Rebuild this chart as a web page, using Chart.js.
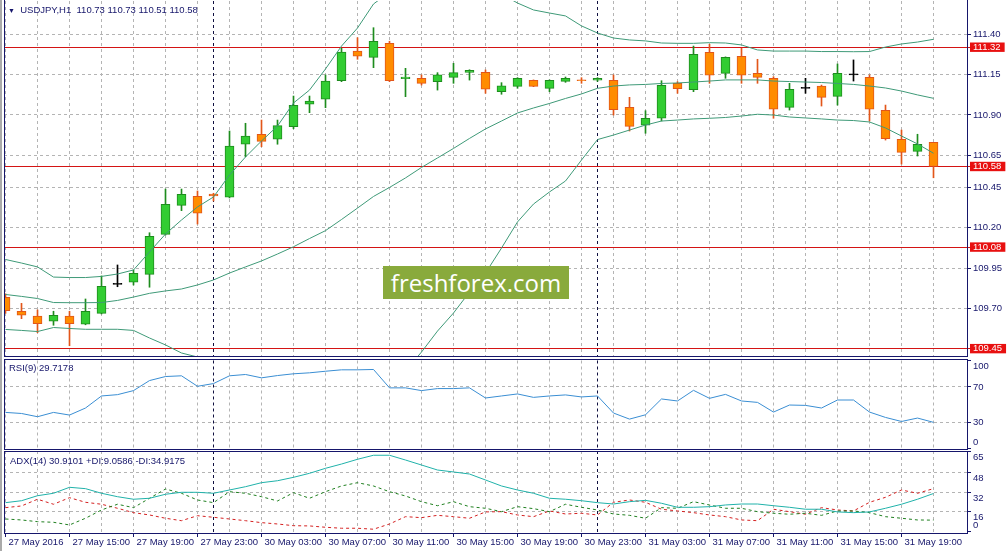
<!DOCTYPE html>
<html>
<head>
<meta charset="utf-8">
<script src="https://cdn.jsdelivr.net/npm/chart.js@4.4.0/dist/chart.umd.min.js"></script>
<style>
  html, body { margin: 0; padding: 0; background: #fff; }
  body { width: 1007px; height: 551px; position: relative; overflow: hidden;
         font-family: 'Liberation Sans', Arial, sans-serif; }
  canvas { position: absolute; left: 0; }
  .frame { position: absolute; left: 4px; width: 964px; border: 1px solid #16166b;
           box-sizing: border-box; pointer-events: none; }
  .edge { position: absolute; left: 0; top: 0; width: 2px; height: 551px; background: #aaa; }
  .lbl { position: absolute; font-size: 9.5px; color: #16166b; white-space: pre; line-height: 12px; }
  .tri { font-size: 7px; }
  .mark { position: absolute; left: 383px; top: 266px; width: 186px; height: 33px;
          background: #89aa3c; color: #fff; font: 24px 'Open Sans', sans-serif;
          line-height: 33px; text-align: center; }
</style>
</head>
<body>
<div class="edge"></div>
<canvas id="main" width="1007" height="358" style="top:0"></canvas>
<canvas id="rsi" width="1007" height="110" style="top:350px"></canvas>
<canvas id="adx" width="1007" height="106" style="top:445px"></canvas>
<div class="frame" style="top:-1px;height:358px"></div>
<div class="frame" style="top:359px;height:91px"></div>
<div class="frame" style="top:451px;height:83px"></div>
<div class="lbl" id="head" style="left:8px;top:4px"></div>
<div class="lbl" id="rsiLbl" style="left:9px;top:362px"></div>
<div class="lbl" id="adxLbl" style="left:10px;top:455px"></div>
<div class="mark">freshforex.com</div>
<script>
// USDJPY H1, 27 May 11:00 .. 31 May 21:00
const timeLabels = ['27 May 2016', '27 May 15:00', '27 May 19:00', '27 May 23:00', '30 May 03:00',
  '30 May 07:00', '30 May 11:00', '30 May 15:00', '30 May 19:00', '30 May 23:00', '31 May 03:00',
  '31 May 07:00', '31 May 11:00', '31 May 15:00', '31 May 19:00'];
const labelEvery = 4;
const separators = [13, 37];

const open = [109.768, 109.682, 109.652, 109.620, 109.652, 109.601, 109.669, 109.849, 109.862, 109.911,
  110.159, 110.339, 110.395, 110.409, 110.389, 110.718, 110.780, 110.749, 110.827, 110.966,
  110.997, 111.112, 111.296, 111.257, 111.344, 111.125, 111.127, 111.106, 111.133, 111.164,
  111.164, 111.044, 111.077, 111.115, 111.065, 111.108, 111.115, 111.115, 111.115, 110.947,
  110.837, 110.879, 111.096, 111.056, 111.288, 111.158, 111.264, 111.158, 111.127, 110.947,
  111.065, 111.079, 111.015, 111.148, 111.133, 110.929, 110.749, 110.674, 110.73];
const high = [109.790, 109.731, 109.690, 109.682, 109.682, 109.758, 109.901, 109.969, 109.938, 110.169,
  110.440, 110.440, 110.428, 110.414, 110.800, 110.848, 110.868, 110.868, 111.017, 111.017,
  111.148, 111.313, 111.379, 111.441, 111.357, 111.189, 111.148, 111.162, 111.220, 111.180,
  111.179, 111.100, 111.131, 111.117, 111.117, 111.135, 111.131, 111.131, 111.148, 111.009,
  110.926, 111.112, 111.106, 111.327, 111.338, 111.260, 111.313, 111.245, 111.137, 111.096,
  111.127, 111.085, 111.216, 111.241, 111.148, 110.961, 110.806, 110.780, 110.73];
const low = [109.669, 109.636, 109.549, 109.595, 109.468, 109.598, 109.665, 109.834, 109.845, 109.831,
  110.155, 110.306, 110.223, 110.366, 110.385, 110.641, 110.703, 110.718, 110.814, 110.914,
  110.945, 111.106, 111.245, 111.193, 111.106, 111.013, 111.085, 111.054, 111.096, 111.116,
  111.034, 111.028, 111.065, 111.075, 111.044, 111.102, 111.096, 111.108, 110.899, 110.800,
  110.786, 110.862, 111.034, 111.044, 111.096, 111.127, 111.096, 111.096, 110.879, 110.930,
  111.034, 110.955, 110.961, 111.110, 110.862, 110.744, 110.595, 110.645, 110.51];
const close = [109.685, 109.657, 109.605, 109.657, 109.605, 109.682, 109.837, 109.849, 109.917, 110.147,
  110.345, 110.407, 110.290, 110.397, 110.707, 110.769, 110.736, 110.833, 110.960, 110.986,
  111.110, 111.290, 111.264, 111.357, 111.112, 111.135, 111.096, 111.148, 111.162, 111.177,
  111.059, 111.081, 111.127, 111.077, 111.115, 111.127, 111.112, 111.127, 110.932, 110.829,
  110.879, 111.084, 111.063, 111.276, 111.146, 111.257, 111.146, 111.133, 110.935, 111.059,
  111.065, 111.009, 111.158, 111.148, 110.935, 110.752, 110.668, 110.718, 110.58];

const bbUpper = [110.003, 109.981, 109.957, 109.894, 109.891, 109.891, 109.898, 109.913, 109.938, 110.050,
  110.161, 110.248, 110.329, 110.391, 110.527, 110.639, 110.738, 110.831, 110.974, 111.054,
  111.185, 111.327, 111.439, 111.588, 111.662, 111.706, 111.718, 111.706, 111.712, 111.706,
  111.706, 111.650, 111.594, 111.551, 111.532, 111.514, 111.452, 111.408, 111.377, 111.365,
  111.359, 111.346, 111.344, 111.344, 111.348, 111.346, 111.334, 111.303, 111.296, 111.296,
  111.296, 111.293, 111.293, 111.292, 111.293, 111.321, 111.340, 111.352, 111.369];
const bbMiddle = [109.786, 109.774, 109.761, 109.736, 109.735, 109.735, 109.736, 109.749, 109.770, 109.793,
  109.808, 109.820, 109.845, 109.876, 109.919, 109.957, 109.994, 110.037, 110.082, 110.133,
  110.182, 110.251, 110.322, 110.394, 110.450, 110.509, 110.574, 110.633, 110.692, 110.754,
  110.813, 110.862, 110.912, 110.943, 110.971, 111.002, 111.030, 111.065, 111.079, 111.086,
  111.089, 111.095, 111.098, 111.104, 111.110, 111.117, 111.117, 111.117, 111.110, 111.107,
  111.104, 111.101, 111.095, 111.089, 111.079, 111.067, 111.048, 111.024, 111.003];
const bbLower = [109.569, 109.563, 109.556, 109.581, 109.575, 109.570, 109.570, 109.570, 109.563, 109.516,
  109.473, 109.423, 109.398, 109.361, 109.311, 109.274, 109.249, 109.243, 109.193, 109.212,
  109.181, 109.175, 109.206, 109.200, 109.237, 109.311, 109.429, 109.559, 109.671, 109.801,
  109.919, 110.074, 110.236, 110.347, 110.422, 110.490, 110.620, 110.747, 110.775, 110.806,
  110.837, 110.862, 110.868, 110.875, 110.879, 110.884, 110.893, 110.904, 110.899, 110.887,
  110.881, 110.875, 110.868, 110.865, 110.856, 110.819, 110.769, 110.720, 110.662];

const rsi = [41.0, 39.8, 36.1, 41.0, 38.0, 46.0, 59.7, 61.2, 65.8, 77.2,
  81.8, 82.6, 70.7, 73.8, 82.6, 84.1, 80.3, 82.9, 84.9, 86.0,
  87.8, 89.4, 89.4, 89.8, 68.9, 68.9, 65.8, 68.1, 68.1, 68.9,
  57.4, 59.7, 62.0, 58.1, 59.7, 60.9, 58.6, 59.7, 40.3, 33.4,
  38.3, 56.3, 54.0, 66.1, 57.0, 61.5, 54.0, 52.4, 41.4, 49.4,
  49.0, 46.0, 55.1, 55.1, 41.4, 35.3, 30.7, 34.6, 29.7178];

const adx = [23.4, 25.0, 29.1, 31.1, 36.0, 34.9, 31.1, 28.3, 26.2, 27.0,
  30.3, 31.9, 31.9, 31.1, 33.8, 36.5, 39.8, 41.4, 44.2, 47.5,
  51.6, 55.1, 59.0, 62.3, 62.3, 58.4, 54.3, 50.2, 48.6, 46.9,
  42.0, 37.1, 33.8, 31.1, 27.0, 26.2, 25.0, 23.4, 22.3, 24.2,
  25.3, 22.9, 19.6, 19.6, 20.1, 21.5, 22.3, 22.3, 20.9, 19.6,
  18.0, 18.0, 15.8, 15.2, 15.8, 18.8, 22.1, 26.2, 30.9101];
const plusDI = [10.0, 9.2, 7.8, 7.3, 5.1, 10.6, 17.4, 22.1, 19.3, 27.0,
  34.6, 31.1, 25.6, 23.4, 32.4, 31.1, 28.3, 24.8, 31.6, 27.0,
  32.4, 37.1, 39.8, 37.1, 32.4, 28.9, 24.2, 20.9, 24.2, 20.1,
  18.8, 16.0, 20.1, 18.5, 16.0, 22.1, 19.6, 17.4, 14.1, 13.0,
  10.6, 19.3, 18.8, 24.2, 21.5, 18.8, 18.8, 16.0, 14.7, 13.9,
  14.7, 13.0, 16.6, 16.6, 15.2, 11.9, 10.6, 9.2, 9.0586];
const minusDI = [19.3, 20.7, 26.2, 22.1, 27.5, 23.7, 22.1, 18.8, 15.2, 13.3,
  10.6, 8.6, 12.7, 11.4, 10.0, 8.6, 7.0, 5.9, 4.5, 4.3,
  3.2, 2.4, 2.4, 1.6, 5.9, 11.9, 11.1, 13.0, 11.9, 10.6,
  15.8, 16.0, 13.3, 11.9, 16.6, 14.1, 14.7, 13.3, 23.7, 25.6,
  23.7, 18.0, 16.6, 15.2, 13.3, 11.9, 9.2, 8.6, 18.0, 16.0,
  13.9, 19.3, 17.4, 16.6, 23.7, 27.8, 33.8, 31.1, 34.9175];

const priceTicks = [111.40, 111.15, 110.90, 110.65, 110.45, 110.20, 109.95, 109.70];
const levels = [111.32, 110.58, 110.08, 109.45];
const rsiTicks = [100, 70, 30, 0];
const adxTicks = [65, 48, 32, 16, 0];

const NAVY = '#16166b';
const GRID = '#b4b4b4';
const SEP = '#101040';
const RED = '#d41414';
const BB = '#3f9a78';
const font = { family: "'Liberation Sans', Arial, sans-serif", size: 9.5 };
Chart.defaults.font.family = font.family;

const N = close.length;
const idx = close.map((_, i) => i);
const evenIdx = idx.filter(i => i % 2 === 0);
const labelIdx = idx.filter(i => i % labelEvery === 0);
const isDoji = i => open[i] === close[i];
const fillCol = idx.map(i => isDoji(i) ? '#000' : close[i] > open[i] ? '#32cd32' : '#ff8c00');
const edgeCol = idx.map(i => isDoji(i) ? '#000' : close[i] > open[i] ? '#1e8c1e' : '#e2561a');

document.getElementById('head').innerHTML = '<span class="tri">&#9660;</span>  USDJPY,H1  ' +
  [open[N - 1], high[N - 1], low[N - 1], close[N - 1]].map(v => v.toFixed(2)).join(' ');
document.getElementById('rsiLbl').textContent = 'RSI(9) ' + rsi[N - 1].toFixed(4);
document.getElementById('adxLbl').textContent = 'ADX(14) ' + adx[N - 1].toFixed(4) +
  ' +DI:' + plusDI[N - 1].toFixed(4) + ' -DI:' + minusDI[N - 1].toFixed(4);

// terminal-style grid: dashed grey lines, dashed day separators, solid red levels
// (levels run on to the price axis as red tick marks), placed with the chart's own scales
function terminalGrid(xGrid, yGrid, yLevels) {
  return {
    id: 'terminalGrid',
    beforeDatasetsDraw(chart) {
      const { ctx, chartArea: a, scales: { x, y } } = chart;
      const crisp = p => Math.round(p - 0.5) + 0.5;
      const stroke = (x1, y1, x2, y2, color, dash) => {
        ctx.strokeStyle = color; ctx.setLineDash(dash);
        ctx.beginPath(); ctx.moveTo(x1, y1); ctx.lineTo(x2, y2); ctx.stroke();
      };
      ctx.save();
      ctx.lineWidth = 1;
      xGrid.forEach(v => { const p = crisp(x.getPixelForValue(v)); stroke(p, a.top, p, a.bottom, GRID, [3, 3]); });
      yGrid.forEach(v => { const p = crisp(y.getPixelForValue(v)); stroke(a.left, p, a.right, p, GRID, [3, 3]); });
      separators.forEach(v => { const p = crisp(x.getPixelForValue(v)); stroke(p, a.top, p, a.bottom, SEP, [3, 3]); });
      yLevels.forEach(v => { const p = crisp(y.getPixelForValue(v)); stroke(a.left, p, a.right + 4, p, RED, []); });
      ctx.restore();
    }
  };
}

const X_MIN = -0.09375, X_MAX = 60.09375;

function xAxis(showLabels) {
  return {
    type: 'linear', display: showLabels, min: X_MIN, max: X_MAX, offset: false,
    afterBuildTicks: s => { s.ticks = labelIdx.map(v => ({ value: v })); },
    afterFit: s => { s.paddingLeft = 0; s.paddingRight = 0; s.height = showLabels ? 18 : 0; },
    grid: { offset: false, drawOnChartArea: false, drawTicks: true, tickLength: 4, tickColor: NAVY, color: NAVY },
    border: { display: false },
    ticks: { autoSkip: false, maxRotation: 0, align: 'start', labelOffset: 3, padding: 0,
      color: NAVY, font, callback: v => timeLabels[v / labelEvery] }
  };
}

function yAxis(min, max, ticks, callback, tickExtra) {
  return {
    position: 'right', min, max,
    afterBuildTicks: s => { s.ticks = ticks.map(v => ({ value: v })); },
    afterFit: s => { s.width = 40; s.paddingTop = 0; s.paddingBottom = 0; },
    grid: { drawOnChartArea: false, tickLength: 4, tickColor: NAVY, color: NAVY },
    border: { display: false },
    ticks: Object.assign({ autoSkip: false, padding: 2, color: NAVY, font, callback }, tickExtra)
  };
}

const base = {
  responsive: false, animation: false, devicePixelRatio: 1, events: [],
  plugins: { legend: { display: false }, tooltip: { enabled: false } }
};

const line = (data, color, extra) => Object.assign({
  type: 'line', data: idx.map(i => ({ x: i, y: data[i] })), borderColor: color,
  borderWidth: 1, pointRadius: 0, tension: 0, order: 0
}, extra);

const mainTicks = priceTicks.concat(levels);
new Chart(document.getElementById('main'), {
  type: 'line',
  data: {
    datasets: [
      { type: 'bar', data: idx.map(i => ({ x: i, y: [low[i], high[i]] })), backgroundColor: edgeCol,
        barThickness: 1, grouped: false, order: 3 },
      { type: 'bar', data: idx.map(i => ({ x: i, y: [open[i], close[i]] })), backgroundColor: fillCol,
        borderColor: edgeCol, borderWidth: 1, borderSkipped: false, barThickness: 9,
        minBarLength: 1, grouped: false, order: 2 },
      line(bbUpper, BB), line(bbMiddle, BB), line(bbLower, BB)
    ]
  },
  plugins: [terminalGrid(evenIdx, priceTicks, levels)],
  options: Object.assign({}, base, {
    layout: { padding: { left: 4, top: 1, right: 0, bottom: 2 } },
    scales: {
      x: xAxis(false),
      y: yAxis(109.4043, 111.6066, mainTicks, v => v.toFixed(2), {
        color: c => levels.includes(c.tick.value) ? '#fff' : NAVY,
        showLabelBackdrop: c => levels.includes(c.tick.value),
        backdropColor: '#e81010',
        backdropPadding: { left: 3, right: 4, top: -1, bottom: -1 }
      })
    }
  })
});

new Chart(document.getElementById('rsi'), {
  type: 'line',
  data: { datasets: [line(rsi, '#3a8ed3')] },
  plugins: [terminalGrid(evenIdx, rsiTicks.filter(v => v > 0 && v < 100), [])],
  options: Object.assign({}, base, {
    layout: { padding: { left: 4, top: 10.5, right: 0, bottom: 11.5 } },
    scales: {
      x: xAxis(false),
      y: yAxis(0, 100, rsiTicks, v => v === 100 ? ['', '100'] : v === 0 ? ['0', ''] : String(v))
    }
  })
});

new Chart(document.getElementById('adx'), {
  type: 'line',
  data: {
    datasets: [
      line(adx, '#20b2aa'),
      line(plusDI, '#1f7f1f', { borderDash: [3, 3] }),
      line(minusDI, '#d42020', { borderDash: [3, 3] })
    ]
  },
  plugins: [terminalGrid(evenIdx, adxTicks.filter(v => v > 0 && v < 65), [])],
  options: Object.assign({}, base, {
    layout: { padding: { left: 4, top: 6, right: 0, bottom: 0 } },
    scales: {
      x: xAxis(true),
      y: yAxis(-1.5, 65.8, adxTicks, v => v === 0 ? ['0', ''] : ['', String(v)])
    }
  })
});
</script>
</body>
</html>
